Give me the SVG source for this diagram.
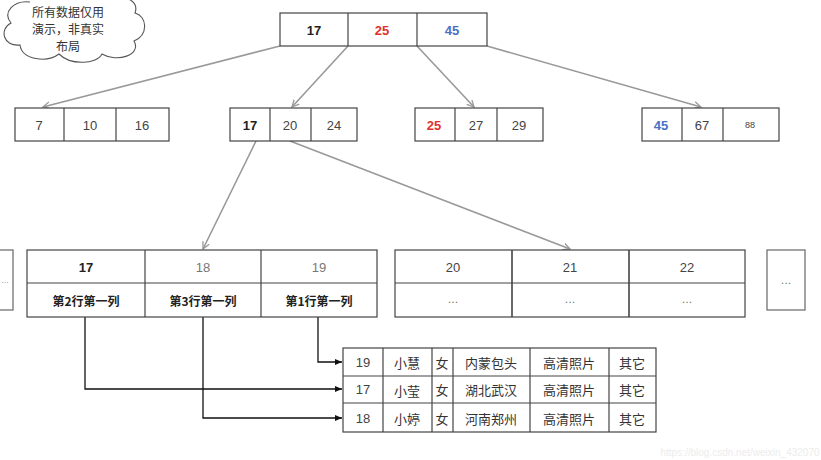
<svg xmlns="http://www.w3.org/2000/svg" width="821" height="460" viewBox="0 0 821 460">
<defs>
<marker id="ag" markerWidth="8" markerHeight="8" refX="7" refY="4" orient="auto" markerUnits="userSpaceOnUse"><path d="M0,0.5 L7,4 L0,7.5" fill="none" stroke="#999" stroke-width="1.3"/></marker>
<marker id="ab" markerWidth="8" markerHeight="8" refX="7" refY="4" orient="auto" markerUnits="userSpaceOnUse"><path d="M0,1 L7,4 L0,7 Z" fill="#111"/></marker>
</defs>
<style>
.box{fill:#fff;stroke:#444;stroke-width:1.2}
.ln{stroke:#444;stroke-width:1.2}
text{font-family:"Liberation Sans","Noto Sans CJK SC",sans-serif;font-size:13px;fill:#444;text-anchor:middle;dominant-baseline:central}
.b{font-weight:bold;fill:#222}
.r{font-weight:bold;fill:#e0322c}
.bl{font-weight:bold;fill:#4a70c4}
.g{fill:#777}
.cn{font-family:"Noto Sans CJK SC",sans-serif;font-size:13px;fill:#333}
.cl{font-family:"Noto Sans CJK SC",sans-serif;font-size:12px;fill:#333}
.cb{font-family:"Noto Sans CJK SC",sans-serif;font-size:12px;font-weight:bold;fill:#222}
.dot{font-size:11px;fill:#666}
.gc{stroke:#999;stroke-width:1.6;fill:none}
.bc{stroke:#111;stroke-width:1.3;fill:none}
</style>
<rect width="821" height="460" fill="#fff"/>
<g id="cloud">
<path d="M30,2 C14,0 2,12 11,23 C-1,29 3,47 20,45 C22,60 47,63 59,54 C71,66 97,64 102,54 C117,63 142,55 134,41 C149,35 147,16 135,13 C139,2 127,-4 119,-1" fill="#fff" stroke="#555" stroke-width="1.1"/>
<text x="68" y="11" class="cl">所有数据仅用</text>
<text x="68" y="28" class="cl">演示，非真实</text>
<text x="68" y="45" class="cl">布局</text>
</g>
<g id="connectors">
<line x1="280" y1="46" x2="43" y2="107" class="gc" marker-end="url(#ag)"/>
<line x1="348" y1="46" x2="292" y2="107" class="gc" marker-end="url(#ag)"/>
<line x1="417" y1="46" x2="474" y2="107" class="gc" marker-end="url(#ag)"/>
<line x1="487" y1="46" x2="701" y2="107" class="gc" marker-end="url(#ag)"/>
<line x1="256" y1="141" x2="203" y2="249" class="gc" marker-end="url(#ag)"/>
<line x1="290" y1="141" x2="570" y2="249" class="gc" marker-end="url(#ag)"/>
<polyline points="318,317 318,362 342,362" class="bc" marker-end="url(#ab)"/>
<polyline points="85,317 85,389 342,389" class="bc" marker-end="url(#ab)"/>
<polyline points="203,317 203,418 342,418" class="bc" marker-end="url(#ab)"/>
</g>
<g id="root">
<rect x="280" y="13" width="207" height="33" class="box"/>
<line x1="348" y1="13" x2="348" y2="46" class="ln"/>
<line x1="417" y1="13" x2="417" y2="46" class="ln"/>
<text x="314" y="30" class="b">17</text>
<text x="382" y="30" class="r">25</text>
<text x="452" y="30" class="bl">45</text>
</g>
<g id="n1">
<rect x="15" y="108" width="154" height="33" class="box"/>
<line x1="64" y1="108" x2="64" y2="141" class="ln"/>
<line x1="116" y1="108" x2="116" y2="141" class="ln"/>
<text x="39" y="125">7</text>
<text x="90" y="125">10</text>
<text x="142" y="125">16</text>
</g>
<g id="n2">
<rect x="230" y="108" width="127" height="33" class="box"/>
<line x1="270" y1="108" x2="270" y2="141" class="ln"/>
<line x1="311" y1="108" x2="311" y2="141" class="ln"/>
<text x="250" y="125" class="b">17</text>
<text x="290" y="125">20</text>
<text x="334" y="125">24</text>
</g>
<g id="n3">
<rect x="415" y="108" width="128" height="33" class="box"/>
<line x1="455" y1="108" x2="455" y2="141" class="ln"/>
<line x1="497" y1="108" x2="497" y2="141" class="ln"/>
<text x="434" y="125" class="r">25</text>
<text x="476" y="125">27</text>
<text x="519" y="125">29</text>
</g>
<g id="n4">
<rect x="642" y="108" width="137" height="33" class="box"/>
<line x1="682" y1="108" x2="682" y2="141" class="ln"/>
<line x1="723" y1="108" x2="723" y2="141" class="ln"/>
<text x="661" y="125" class="bl">45</text>
<text x="702" y="125">67</text>
<text x="750" y="125" style="font-size:9px">88</text>
</g>
<g id="leafLeft">
<rect x="-5" y="250" width="18" height="60" class="box" style="stroke:#666"/>
<text x="1" y="280" class="dot" style="text-anchor:start;font-size:8px">…</text>
</g>
<g id="leaf1">
<rect x="27" y="250" width="350" height="67" class="box"/>
<line x1="27" y1="283" x2="377" y2="283" class="ln"/>
<line x1="145" y1="250" x2="145" y2="317" class="ln"/>
<line x1="261" y1="250" x2="261" y2="317" class="ln"/>
<text x="86" y="267" class="b">17</text>
<text x="203" y="267" class="g">18</text>
<text x="319" y="267" class="g">19</text>
<text x="86" y="300" class="cb">第2行第一列</text>
<text x="203" y="300" class="cb">第3行第一列</text>
<text x="319" y="300" class="cb">第1行第一列</text>
</g>
<g id="leaf2">
<rect x="395" y="250" width="350" height="67" class="box"/>
<line x1="395" y1="283" x2="745" y2="283" class="ln"/>
<line x1="512" y1="250" x2="512" y2="317" class="ln" style="stroke-width:1.6"/>
<line x1="629" y1="250" x2="629" y2="317" class="ln" style="stroke-width:1.6"/>
<text x="453" y="267">20</text>
<text x="570" y="267">21</text>
<text x="687" y="267">22</text>
<text x="453" y="299" class="dot">…</text>
<text x="570" y="299" class="dot">…</text>
<text x="687" y="299" class="dot">…</text>
</g>
<g id="leafRight">
<rect x="767" y="250" width="38" height="60" class="box" style="stroke:#666"/>
<text x="786" y="280" class="dot">…</text>
</g>
<g id="table">
<rect x="343" y="348" width="313" height="84" class="box"/>
<line x1="343" y1="376" x2="656" y2="376" class="ln"/>
<line x1="343" y1="403" x2="656" y2="403" class="ln"/>
<line x1="383" y1="348" x2="383" y2="432" class="ln"/>
<line x1="432" y1="348" x2="432" y2="432" class="ln"/>
<line x1="453" y1="348" x2="453" y2="432" class="ln"/>
<line x1="530" y1="348" x2="530" y2="432" class="ln"/>
<line x1="609" y1="348" x2="609" y2="432" class="ln"/>
<text x="363" y="362">19</text>
<text x="407" y="362" class="cn">小慧</text>
<text x="442" y="362" class="cn">女</text>
<text x="491" y="362" class="cn">内蒙包头</text>
<text x="569" y="362" class="cn">高清照片</text>
<text x="632" y="362" class="cn">其它</text>
<text x="363" y="389">17</text>
<text x="407" y="390" class="cn">小莹</text>
<text x="442" y="389" class="cn">女</text>
<text x="491" y="389" class="cn">湖北武汉</text>
<text x="569" y="389" class="cn">高清照片</text>
<text x="632" y="389" class="cn">其它</text>
<text x="363" y="418">18</text>
<text x="407" y="418" class="cn">小婷</text>
<text x="442" y="418" class="cn">女</text>
<text x="491" y="418" class="cn">河南郑州</text>
<text x="569" y="418" class="cn">高清照片</text>
<text x="632" y="418" class="cn">其它</text>
</g>
<text x="740" y="452" style="font-size:10px;fill:#ececec">https://blog.csdn.net/weixin_432070</text>
</svg>
